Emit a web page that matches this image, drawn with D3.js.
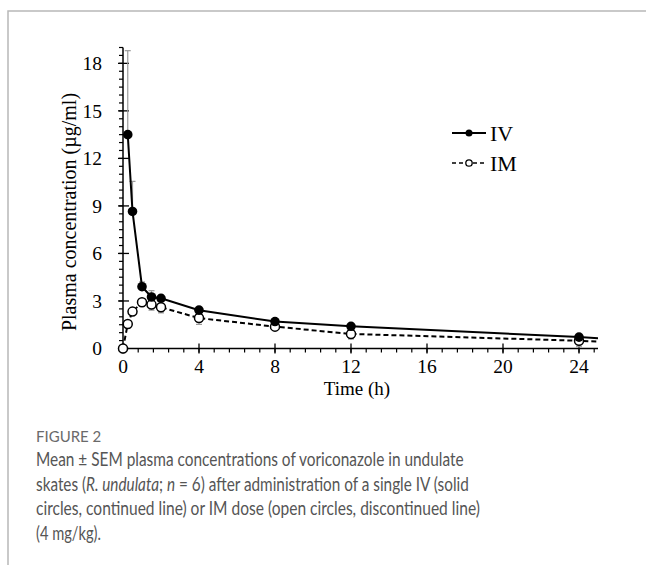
<!DOCTYPE html>
<html>
<head>
<meta charset="utf-8">
<script src="https://cdn.jsdelivr.net/npm/d3@7/dist/d3.min.js"></script>
<style>
  html, body { margin: 0; padding: 0; background: #fff; }
  svg { display: block; }
</style>
</head>
<body>
<svg id="chart" width="646" height="565"></svg>
<script>
// ---- data ----
const ivTimes = [0.25, 0.5, 1, 1.5, 2, 4, 8, 12, 24];
const ivMean  = [13.5, 8.65, 3.9, 3.25, 3.17, 2.42, 1.7, 1.4, 0.72];
const ivSem   = [5.3, 1.9, 0.3, 0.4, 0.2, 0.2, 0.15, 0.15, 0.15];
const imTimes = [0, 0.25, 0.5, 1, 1.5, 2, 4, 8, 12, 24];
const imMean  = [0, 1.55, 2.33, 2.92, 2.77, 2.6, 1.92, 1.38, 0.92, 0.49];
const imSem   = [0, 0.25, 0.2, 0.25, 0.35, 0.35, 0.4, 0.22, 0.32, 0.38];
const tailTime = 25;
const ivTail = 0.64;
const imTail = 0.43;
const xTicks = [0, 4, 8, 12, 16, 20, 24];
const yTicks = [0, 3, 6, 9, 12, 15, 18];
const legendLabels = ["IV", "IM"];
const xLabel = "Time (h)";
const yLabel = "Plasma concentration (µg/ml)";
const figLabel = "FIGURE 2";

const svg = d3.select("#chart");

// frame
svg.append("path")
  .attr("d", "M8,565 L8,11 L646,11")
  .attr("fill", "none").attr("stroke", "#b8b8b8").attr("stroke-width", 1.5);

const x = d3.scaleLinear().domain([0, 25]).range([123, 598]);
const y = d3.scaleLinear().domain([0, 19]).range([348.5, 47.5]);

const serif = "'Liberation Serif', 'Times New Roman', serif";
const g = svg.append("g");

// axes lines
g.append("line").attr("x1", x(0)).attr("x2", x(0)).attr("y1", y(0)).attr("y2", y(19))
  .attr("stroke", "#000").attr("stroke-width", 1.5);
g.append("line").attr("x1", x(0)).attr("x2", x(25)).attr("y1", y(0)).attr("y2", y(0))
  .attr("stroke", "#000").attr("stroke-width", 1.5);

// y minor ticks (every 0.5)
const yMinor = d3.range(0, 19.01, 0.5);
g.selectAll(".ymin").data(yMinor).join("line")
  .attr("x1", x(0) - 4).attr("x2", x(0))
  .attr("y1", d => y(d)).attr("y2", d => y(d))
  .attr("stroke", "#000").attr("stroke-width", 1.2);
// y major ticks
g.selectAll(".ymaj").data(yTicks).join("line")
  .attr("x1", x(0) - 5).attr("x2", x(0) + 6)
  .attr("y1", d => y(d)).attr("y2", d => y(d))
  .attr("stroke", "#000").attr("stroke-width", 1.3);
g.selectAll(".ylab").data(yTicks).join("text")
  .attr("x", 102).attr("y", d => y(d)).attr("dy", "0.35em")
  .attr("text-anchor", "end").attr("font-family", serif).attr("font-size", 19.5)
  .text(d => d);

// x minor ticks (every 0.8)
const xMinor = d3.range(0, 25.01, 0.8);
g.selectAll(".xmin").data(xMinor).join("line")
  .attr("x1", d => x(d)).attr("x2", d => x(d))
  .attr("y1", y(0)).attr("y2", y(0) + 4)
  .attr("stroke", "#000").attr("stroke-width", 1.2);
g.selectAll(".xmaj").data(xTicks).join("line")
  .attr("x1", d => x(d)).attr("x2", d => x(d))
  .attr("y1", y(0) - 5).attr("y2", y(0) + 5)
  .attr("stroke", "#000").attr("stroke-width", 1.3);
g.selectAll(".xlab").data(xTicks).join("text")
  .attr("x", d => x(d)).attr("y", 373)
  .attr("text-anchor", "middle").attr("font-family", serif).attr("font-size", 19.5)
  .text(d => d);

// axis titles
g.append("text").attr("x", 357).attr("y", 395).attr("text-anchor", "middle")
  .attr("font-family", serif).attr("font-size", 19).text(xLabel);
g.append("text").attr("transform", "translate(76,212) rotate(-90)")
  .attr("text-anchor", "middle").attr("font-family", serif).attr("font-size", 20)
  .text(yLabel);

// error bars
const iv = ivTimes.map((t, i) => ({ t, v: ivMean[i], e: ivSem[i] }));
const im = imTimes.map((t, i) => ({ t, v: imMean[i], e: imSem[i] }));
const errCol = "#9a9a9a";
const drawErr = (data, dir) => {
  const eg = g.append("g");
  eg.selectAll("line.v").data(data.filter(d => d.e > 0)).join("line")
    .attr("x1", d => x(d.t)).attr("x2", d => x(d.t))
    .attr("y1", d => y(d.v)).attr("y2", d => y(d.v + dir * d.e))
    .attr("stroke", errCol).attr("stroke-width", 1.2);
  eg.selectAll("line.c").data(data.filter(d => d.e > 0)).join("line")
    .attr("x1", d => x(d.t) - 3).attr("x2", d => x(d.t) + 3)
    .attr("y1", d => y(d.v + dir * d.e)).attr("y2", d => y(d.v + dir * d.e))
    .attr("stroke", errCol).attr("stroke-width", 1.2);
};
drawErr(iv, 1);
drawErr(im, -1);

// lines
const line = d3.line().x(d => x(d.t)).y(d => y(d.v));
g.append("path").datum(im.concat([{ t: tailTime, v: imTail }]))
  .attr("d", line).attr("fill", "none").attr("stroke", "#000")
  .attr("stroke-width", 2).attr("stroke-dasharray", "5,3");
g.append("path").datum(iv.concat([{ t: tailTime, v: ivTail }]))
  .attr("d", line).attr("fill", "none").attr("stroke", "#000")
  .attr("stroke-width", 2);

// markers
g.selectAll(".imdot").data(im).join("circle")
  .attr("cx", d => x(d.t)).attr("cy", d => y(d.v)).attr("r", 4.5)
  .attr("fill", "#fff").attr("stroke", "#000").attr("stroke-width", 1.5);
g.selectAll(".ivdot").data(iv).join("circle")
  .attr("cx", d => x(d.t)).attr("cy", d => y(d.v)).attr("r", 4.8)
  .attr("fill", "#000");

// legend
const lg = svg.append("g");
const legY = [133, 163];
lg.append("line").attr("x1", 452).attr("x2", 486).attr("y1", legY[0]).attr("y2", legY[0])
  .attr("stroke", "#000").attr("stroke-width", 2);
lg.append("circle").attr("cx", 469).attr("cy", legY[0]).attr("r", 3.5).attr("fill", "#000");
lg.append("line").attr("x1", 452).attr("x2", 486).attr("y1", legY[1]).attr("y2", legY[1])
  .attr("stroke", "#000").attr("stroke-width", 1.5).attr("stroke-dasharray", "4,3");
lg.append("circle").attr("cx", 469).attr("cy", legY[1]).attr("r", 3.2)
  .attr("fill", "#fff").attr("stroke", "#000").attr("stroke-width", 1.3);
lg.selectAll("text").data(legendLabels).join("text")
  .attr("x", 490).attr("y", (d, i) => legY[i]).attr("dy", "0.35em")
  .attr("font-family", serif).attr("font-size", 22).text(d => d);

// caption
const sans = "Lato, 'Open Sans', sans-serif";
svg.append("text").attr("x", 36).attr("y", 442)
  .attr("font-family", sans).attr("font-size", 15).attr("fill", "#6a6a6a")
  .text(figLabel);

const capLines = [
  { y: 466, w: 428, parts: [["Mean ± SEM plasma concentrations of voriconazole in undulate", ""]] },
  { y: 490.5, w: 433, parts: [["skates (", ""], ["R. undulata", "italic"], ["; ", ""], ["n", "italic"], [" = 6) after administration of a single IV (solid", ""]] },
  { y: 515, w: 444, parts: [["circles, continued line) or IM dose (open circles, discontinued line)", ""]] },
  { y: 539.5, w: 65, parts: [["(4 mg/kg).", ""]] }
];
capLines.forEach(l => {
  const grp = svg.append("g");
  const t = grp.append("text").attr("x", 0).attr("y", 0)
    .attr("font-family", sans).attr("font-size", 19).attr("fill", "#555");
  l.parts.forEach(p => {
    t.append("tspan").attr("font-style", p[1] || null).text(p[0]);
  });
  const w = t.node().getComputedTextLength();
  grp.attr("transform", `translate(36,${l.y}) scale(${l.w / w},1)`);
});
</script>
</body>
</html>
